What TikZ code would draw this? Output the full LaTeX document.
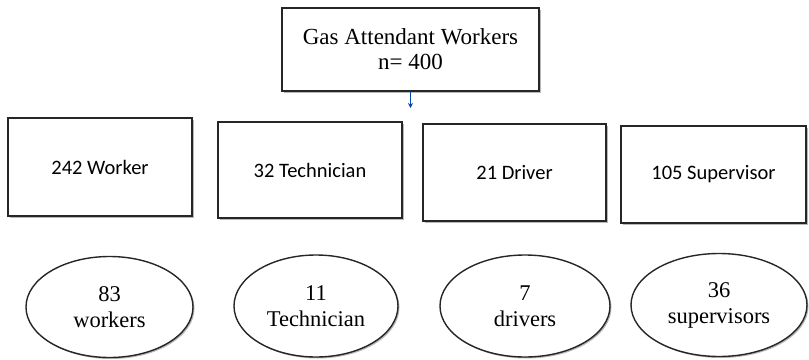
\documentclass[tikz,border=0pt]{standalone}
\usepackage{fontspec}
\setmainfont{Liberation Serif}
\newfontfamily\boxfont{Carlito}
\usetikzlibrary{shapes.geometric,shadows,arrows.meta}
\begin{document}
\begin{tikzpicture}[x=1pt,y=-1pt,
  shade/.style={drop shadow={shadow xshift=1.5pt,shadow yshift=-1.5pt,fill=gray!70,opacity=0.8}},
  topbox/.style={draw=black!85, line width=1.4pt, fill=white, shade, inner sep=0pt, align=center,
    font=\fontsize{23}{25}\selectfont},
  catbox/.style={draw=black!85, line width=1.4pt, fill=white, shade, inner sep=0pt, align=center,
    font=\boxfont\fontsize{20.5}{24}\selectfont},
  countell/.style={ellipse, draw=black!85, line width=1.4pt, fill=white, shade, inner sep=0pt, align=center,
    font=\fontsize{22.5}{26}\selectfont},
  link/.style={draw=blue!60!cyan!70!black, line width=1pt, -{Stealth[length=5pt,width=5pt]}}
]
\useasboundingbox (0,0) rectangle (809,359);
\node[topbox, minimum width=257pt, minimum height=83pt] (top) at (410.5,49.5) {Gas Attendant Workers\\n= 400};
\coordinate (arrowend) at (410.5,108);
\draw[link] (top.south) -- (arrowend);

\node[catbox, minimum width=184pt, minimum height=98pt] (b1) at (100,167) {242 Worker};
\node[catbox, minimum width=184pt, minimum height=96pt] (b2) at (310,170) {32 Technician};
\node[catbox, minimum width=183pt, minimum height=97pt] (b3) at (514.5,172.5) {21 Driver};
\node[catbox, minimum width=185pt, minimum height=97pt] (b4) at (713.5,174.5) {105 Supervisor};

\node[countell, minimum width=167pt, minimum height=101pt] (e1) at (109.5,307) {83\\workers};
\node[countell, minimum width=164pt, minimum height=102pt] (e2) at (316,306) {11\\Technician};
\node[countell, minimum width=170pt, minimum height=102pt] (e3) at (525,306) {7\\drivers};
\node[countell, minimum width=176pt, minimum height=103pt] (e4) at (719,305) {36\\supervisors};
\end{tikzpicture}
\end{document}
